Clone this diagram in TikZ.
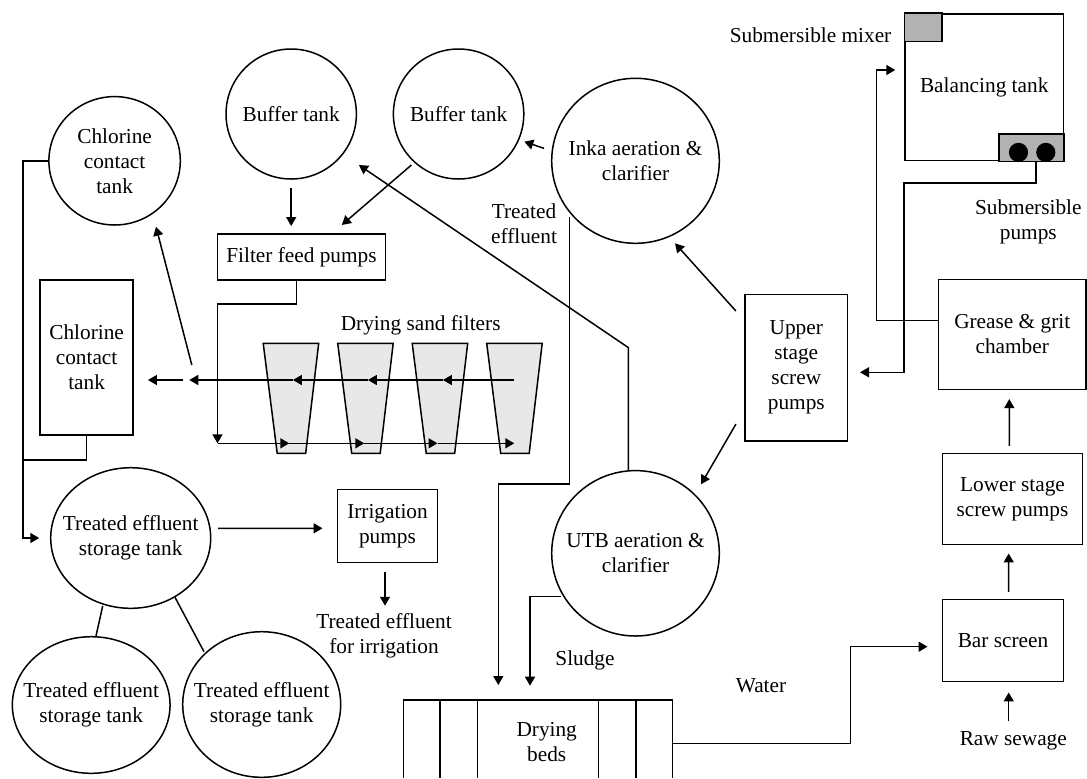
\documentclass[tikz,border=0pt]{standalone}
\usepackage{fontspec}
\setmainfont{Liberation Serif}
\usetikzlibrary{shapes.geometric,arrows.meta,calc}
\begin{document}
\begin{tikzpicture}[x=0.5pt,y=-0.5pt,
  every node/.style={font=\fontsize{10.65}{12.5}\selectfont, align=center, inner sep=0pt},
  tank/.style={ellipse, draw, line width=0.75pt},
  unit/.style={rectangle, draw, line width=0.75pt},
  pipe/.style={line width=0.75pt},
  arr/.style={pipe, -{Triangle[length=4.5pt,width=5pt]}},
  filterbox/.style={pipe, fill=gray!18},
  darkfill/.style={pipe, fill=gray!60}
]
\useasboundingbox (0,0) rectangle (1087,778);
\fill[white] (0,0) rectangle (1087,778);

% ---------- tanks and units ----------
\node[tank, minimum width=65.7pt, minimum height=64.2pt, label={center:Chlorine\\contact\\tank}] (cct) at (114.6,160.8) {};
\node[unit, minimum width=46.6pt, minimum height=77.5pt] (ccr) at (86.6,357.5) {Chlorine\\contact\\tank};
\node[tank, minimum width=65.2pt, minimum height=65pt, label={center:Buffer tank}] (bt1) at (291.2,114) {};
\node[tank, minimum width=65.2pt, minimum height=65pt, label={center:Buffer tank}] (bt2) at (458.6,114) {};
\node[unit, minimum width=84pt, minimum height=23pt] (ffp) at (301.5,257) {Filter feed pumps};
\node[tank, minimum width=83.8pt, minimum height=82.5pt, label={center:Inka aeration \&\\clarifier}] (inka) at (635.5,160.8) {};
\node[tank, minimum width=83.8pt, minimum height=82.7pt, label={center:UTB aeration \&\\clarifier}] (utb) at (635.5,553.3) {};
\node[unit, minimum width=51.35pt, minimum height=73.35pt] (ups) at (796.3,367.7) {Upper\\stage\\screw\\pumps};
\node[unit, minimum width=79.15pt, minimum height=73.35pt] (bal) at (984.2,87.3) {Balancing tank};
\node[unit, minimum width=73.6pt, minimum height=55pt] (ggc) at (1012.2,334.3) {Grease \& grit\\chamber};
\node[unit, minimum width=69.8pt, minimum height=45.5pt] (lsp) at (1012.5,498.8) {Lower stage\\screw pumps};
\node[unit, minimum width=60.3pt, minimum height=41.2pt] (bar) at (1003,640.5) {Bar screen};
\node (raw) at (1013.3,741) {Raw sewage};
\node[tank, minimum width=80pt, minimum height=70.3pt, label={center:Treated effluent\\storage tank}] (tes) at (130.7,538) {};
\node[tank, minimum width=78.85pt, minimum height=68.3pt, label={center:Treated effluent\\storage tank}] (tes2) at (91.2,705) {};
\node[tank, minimum width=79pt, minimum height=72.8pt, label={center:Treated effluent\\storage tank}] (tes3) at (261.7,704.5) {};
\node[unit, minimum width=50.2pt, minimum height=36.7pt] (irr) at (387.5,526) {Irrigation\\pumps};

% ---------- free labels ----------
\node (irrout) at (384,635.5) {Treated effluent\\for irrigation};
\node (dsf) at (420.7,325.7) {Drying sand filters};
\node (tefl) at (524,223.7) {Treated\\effluent};
\node (sludge) at (585,660) {Sludge};
\node (water) at (761,686) {Water};
\node[anchor=east] (smix) at (891.7,35) {Submersible mixer};
\node (spumps) at (1028.3,221.7) {Submersible\\pumps};

% ---------- balancing tank details ----------
\draw[darkfill] (bal.north west) rectangle ++(37.7,28.3);
\draw[darkfill] (bal.south east) rectangle ++(-65,-27.4);
\fill ($(bal.south east)+(-45.6,-9)$) circle [radius=4.8pt];
\fill ($(bal.south east)+(-18.3,-9)$) circle [radius=4.8pt];

% ---------- drying beds ----------
\draw[pipe] (403.3,778) -- (403.3,700) -- (672.7,700) -- (672.7,778);
\foreach \xx in {440,477.3,598.3,636} \draw[pipe] (\xx,700) -- (\xx,778);
\node (dbeds) at (546.7,741.7) {Drying\\beds};
\coordinate (dbr) at (672.7,743.3);
\coordinate (dbin1) at (498.3,685);
\coordinate (dbin2) at (530,685.7);

% ---------- sand filters ----------
\foreach \i in {0,1,2,3} {
  \pgfmathsetmacro\xl{263.2+74.5*\i}
  \draw[filterbox] (\xl,343.3) -- ++(55.5,0) -- ++(-13,110) -- ++(-28.5,0) -- cycle;
}
\coordinate (fo0) at (514.3,380);
\coordinate (fo1) at (442.9,380);
\coordinate (fo2) at (367.9,380);
\coordinate (fo3) at (292.9,380);
\coordinate (fo4) at (189.3,380);
\draw[arr] (fo0) -- (fo1);
\draw[arr] (fo1) -- (fo2);
\draw[arr] (fo2) -- (fo3);
\draw[arr] (fo3) -- (fo4);
\coordinate (fi0) at (217.5,443.3);
\coordinate (fi1) at (289.3,443.3);
\coordinate (fi2) at (364.3,443.3);
\coordinate (fi3) at (437.5,443.3);
\coordinate (fi4) at (514.3,443.3);
\draw[arr] (fi0) -- (fi1);
\draw[arr] (fi1) -- (fi2);
\draw[arr] (fi2) -- (fi3);
\draw[arr] (fi3) -- (fi4);
\draw[arr] ([xshift=-2.55pt]ffp.south) -- ++(0,23.3) -| (fi0);

% filtered water to chlorine tanks
\coordinate (fw1) at (182.9,380);
\coordinate (fw2) at (191.8,365);
\draw[arr, shorten >=7pt] (fw1) -- (ccr.east |- fw1);
\draw[arr] (fw2) -- ($(cct)+(41.4,65.9)$);

% chlorine tanks to storage
\draw[arr, shorten >=5.35pt] (cct.west) -- ++(-25.4,0) |- (tes.west);
\draw[pipe] (ccr.south) -- ++(0,24) -- ++(-63.1,0);

% buffer tanks to filter feed pumps
\draw[arr, shorten <=4.3pt, shorten >=3.6pt] (bt1.south) -- (bt1.south |- ffp.north);
\draw[arr] ($(bt2)+(-47.2,51)$) -- ($(ffp.north east)+(-44.4,-8.3)$);

% UTB to buffer tank 1
\draw[arr] ($(utb.north)+(-7.2,0.3)$) -- ++(0,-122.6) -- ($(bt1)+(67.7,51)$);

% Inka to buffer tank 2
\draw[arr] ($(inka)+(-91.5,-12.5)$) -- ($(bt2)+(65.7,27.7)$);

% treated effluent and sludge to drying beds
\draw[arr] ($(inka)+(-66.2,56.5)$) -- ++(0,266.7) -| (dbin1);
\draw[arr] ($(utb)+(-74.8,43.4)$) -| (dbin2);

% water to bar screen
\draw[arr] (dbr) -- ++(178,0) |- ($(bar.west)+(-14.4,6.2)$);

% main line
\draw[arr] ($(raw.north)+(-4.6,-10)$) -- ($(bar.south)+(5.7,10)$);
\draw[arr] ($(bar.north)+(5.7,-6.6)$) -- ($(lsp.south)+(-3.8,8.4)$);
\draw[arr] ($(lsp.north)+(-3.2,-6.6)$) -- ($(ggc.south)+(-2.9,9)$);
\draw[arr] ($(ggc.west)+(0,-13.6)$) -- ++(-61.6,0) |- ($(bal.west)+(-9,-17.3)$);
\draw[arr] ($(bal.south east)+(-28.3,0)$) -- ++(0,21.6) -- ++(-131.7,0) |- ($(ups.east)+(11.6,4.6)$);
\draw[arr] ($(ups.north west)+(-8.3,17.4)$) -- ($(inka)+(39.5,82.5)$);
\draw[arr] ($(ups.south west)+(-8.3,-17.7)$) -- ($(utb)+(65.5,-69)$);

% storage and irrigation
\draw[arr] ($(tes.east)+(6.6,-9.7)$) -- ($(irr.west)+(-14,2.3)$);
\draw[arr] ($(irr.south)+(-2.5,8.3)$) -- ($(irr.south)+(-2.5,42.3)$);
\draw[pipe] ($(tes)+(-28,68)$) -- ($(tes2.north)+(4.8,0)$);
\draw[pipe] ($(tes)+(44.3,59.3)$) -- ($(tes3)+(-57.7,-52.8)$);
\end{tikzpicture}
\end{document}
